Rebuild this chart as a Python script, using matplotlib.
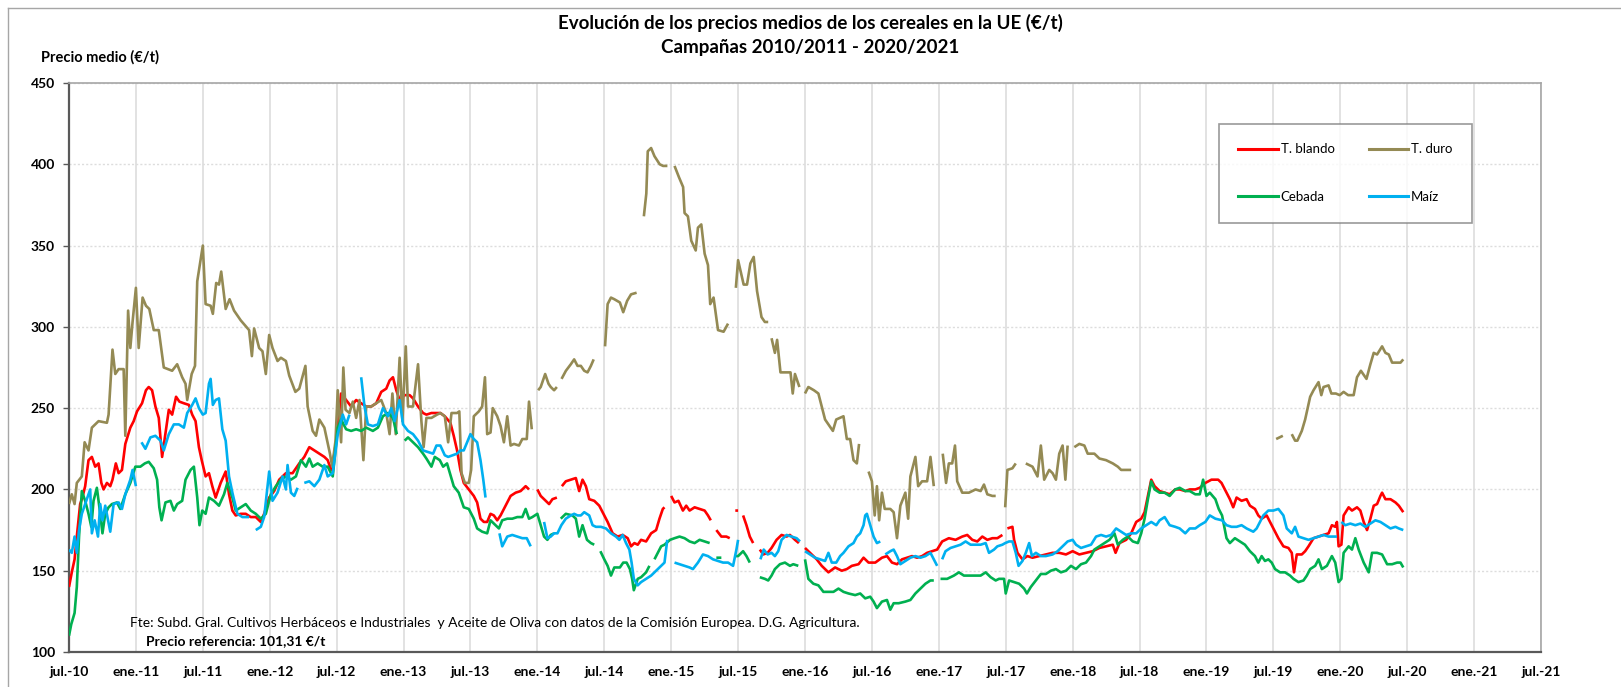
import numpy as np
import matplotlib
matplotlib.use("Agg")
import matplotlib.pyplot as plt
from matplotlib.lines import Line2D

plt.rcParams['font.family'] = ['Lato', 'DejaVu Sans']

FONTSIZE = 10

# x = months since jul.-10 ; None marks a break in the weekly series
tick_labels = ['jul.-10', 'ene.-11', 'jul.-11', 'ene.-12', 'jul.-12', 'ene.-13', 'jul.-13',
               'ene.-14', 'jul.-14', 'ene.-15', 'jul.-15', 'ene.-16', 'jul.-16', 'ene.-17',
               'jul.-17', 'ene.-18', 'jul.-18', 'ene.-19', 'jul.-19', 'ene.-20', 'jul.-20',
               'ene.-21', 'jul.-21']

duro_m = [0, 0.25, 0.5, 0.7, 1.15, 1.4, 1.75, 2.05, 2.65, 3.4, 3.55, 3.9, 4.15, 4.45, 4.9, 5.05, 5.3, 5.5,
          5.7, 6.0, 6.25, 6.6, 6.9, 7.2, 7.6, 8.05, 8.5, 9.25, 9.7, 10.15, 10.45, 10.6, 11.0, 11.3, 11.5,
          12.0, 12.25, 12.7, 12.9, 13.2, 13.45, 13.65, 14.05, 14.4, 14.8, 15.4, 16.15, 16.4, 16.6, 17.05,
          17.35, 17.65, 17.95, 18.25, 18.7, 19.0, 19.45, 19.75, 20.3, 20.65, 21.2, 21.4, 21.85, 22.15,
          22.45, 22.9, 23.4, 23.6, 23.9, 24.1, 24.4, 24.6, 24.8, 25.15, 25.45, 25.75, 26.05, 26.4, 26.65,
          27.1, 27.55, 28.0, 28.45, 28.75, 29.0, 29.3, 29.65, 29.9, 30.2, 30.4, 30.85, 31.3, 31.6, 31.8,
          32.05, 32.5, 33.0, 33.3, 33.7, 34.0, 34.3, 34.8, 35.0, 35.2, 35.5, 35.85, 36.06, 36.3, 36.75,
          37.05, 37.3, 37.5, 37.8, 38.0, 38.4, 38.7, 39.0, 39.3, 39.6, 39.9, 40.35, 40.65, 41.05, 41.25,
          41.5, None, 42.07, 42.3, 42.7, 43.0, 43.2, 43.5, 43.75, None, 44.17, 44.56, 45.0, 45.3, 45.6,
          45.9, 46.2, 46.5, 46.8, 47.05, None, 48.07, 48.3, 48.6, 48.9, 49.4, 49.7, 50.05, 50.4, 50.9,
          None, 51.55, 51.77, 51.9, 52.2, 52.5, 52.97, 53.27, 53.66, None, 54.3, 54.7, 55.07, 55.2, 55.5,
          55.8, 56.2, 56.4, 56.7, 57.0, 57.3, 57.5, 57.8, 58.2, 58.7, 59.1, None, 59.8, 60.0, 60.5, 60.8,
          61.1, 61.4, 61.7, 62.1, 62.4, 62.7, None, 63.0, 63.3, 63.5, 63.8, 64.1, 64.7, 64.9, 65.1, 65.5,
          None, 66.0, 66.3, 66.8, 67.2, 67.8, 68.1, 68.5, 68.8, 69.45, 69.75, 70.05, 70.35, 70.65, 70.85,
          None, 71.7, 72.0, 72.25, 72.45, 72.65, 72.9, 73.15, 73.65, 73.95, 74.25, 74.55, 75.0, 75.25,
          75.45, 75.9, 76.15, 76.5, 76.95, 77.25, 77.55, None, 78.35, 78.65, 78.9, 79.2, 79.45, 79.65,
          80.1, 80.7, 81.3, 81.75, 82.05, 82.35, 82.8, 83.1, None, 83.95, 84.15, 84.6, 84.9, None, 85.8,
          86.4, 86.85, 87.15, 87.45, 87.9, 88.2, 88.5, 88.8, 89.1, 89.35, 89.55, None, 90.15, 90.6, 91.05,
          91.35, 91.95, 92.4, 93.0, 93.6, 94.05, 94.35, 94.8, 95.25, None, 108.25, 108.85, None, 109.65,
          109.95, 110.15, 110.55, 110.85, 111.3, 111.6, 112.05, 112.3, 112.5, 112.95, 113.2, 113.6,
          113.95, 114.3, 114.7, 115.2, 115.5, 115.85, 116.35, 116.7, 117.0, 117.3, 117.75, 118.05,
          118.35, 118.65, 119.1, 119.4, 119.65]
duro_v = [191, 197, 191, 204, 208, 229, 224, 238, 242, 241, 246, 286, 271, 274, 274, 233, 310, 287,
          303, 324, 287, 318, 313, 311, 298, 298, 275, 273, 277, 269, 265, 255, 271, 276, 328,
          350, 314, 313, 308, 327, 326, 334, 311, 317, 310, 304, 298, 282, 299, 287,
          285, 271, 295, 287, 279, 281, 279, 270, 260, 262, 276, 251, 236, 233,
          243, 238, 222, 214, 230, 261, 229, 275, 249, 247, 254, 244, 255, 218, 251,
          251, 253, 255, 247, 234, 259, 234, 281, 242, 288, 251, 251, 277, 242, 226,
          244, 244, 246, 247, 245, 229, 247, 247, 248, 210, 204, 204, 212, 245, 248,
          251, 269, 234, 235, 250, 245, 239, 229, 245, 227, 228, 227, 231, 231, 254,
          237, None, 261, 263, 271, 265, 263, 261, 263, None, 268, 273, 277, 280, 276,
          276, 273, 272, 276, 280, None, 288, 314, 318, 317, 315, 309, 316, 320, 321,
          None, 368, 382, 408, 410, 405, 400, 399, 399, None, 399, 392, 386, 370, 368,
          353, 347, 361, 363, 345, 338, 314, 318, 298, 297, 302, None, 324, 341, 326, 326,
          339, 343, 322, 306, 303, 303, None, 293, 284, 292, 272, 272, 272, 259, 271, 263,
          None, 259, 263, 261, 259, 243, 240, 236, 243, 245, 231, 231, 218, 216, 228,
          None, 211, 205, 184, 202, 181, 198, 188, 188, 186, 170, 190, 198, 182,
          208, 220, 202, 205, 205, 220, 202, None, 222, 204, 216, 216, 227, 205,
          198, 198, 200, 199, 203, 197, 196, 196, None, 189, 212, 213, 216, None, 216,
          214, 208, 227, 206, 212, 210, 206, 222, 227, 206, 227, None, 226, 228, 227,
          222, 222, 219, 218, 216, 214, 212, 212, 212, None, 231, 233, None, 234,
          230, 230, 236, 243, 257, 261, 266, 258, 263, 264, 259, 259,
          258, 260, 258, 258, 269, 273, 268, 277, 284, 283, 288, 284,
          283, 278, 278, 278, 280]

blando_m = [0, 0.25, 0.5, 0.7, 1.0, 1.2, 1.45, 1.75, 2.05, 2.35, 2.65, 2.9, 3.1, 3.4, 3.7, 3.9, 4.2, 4.45,
            4.75, 5.05, 5.5, 5.8, 6.1, 6.55, 6.9, 7.15, 7.45, 7.75, 8.05, 8.35, 8.6, 8.95, 9.25, 9.6, 9.9,
            10.3, 10.75, 11.05, 11.35, 11.65, 11.9, 12.25, 12.55, 12.85, 13.15, 13.6, 14.05, 14.35, 14.65,
            14.95, 15.4, 15.85, 16.3, 16.75, 17.2, 17.5, 17.95, 18.4, 18.85, 19.45, 20.05, 20.65, 21.1,
            21.55, 22.0, 22.45, 22.9, 23.2, 23.5, 23.8, 24.1, 24.4, 24.85, 25.3, 25.75, 26.2, 26.65, 27.1,
            27.55, 28.0, 28.45, 28.75, 29.05, 29.35, 29.65, 30.1, 30.55, 30.85, 31.3, 31.75, 32.05, 32.5,
            32.95, 33.3, 33.7, 34.2, 34.5, 34.8, 35.1, 35.4, 35.85, 36.3, 36.6, 36.9, 37.2, 37.5, 37.8,
            38.1, 38.4, 38.7, 39.0, 39.3, 39.6, 40.05, 40.5, 40.95, 41.25, None, 42.0, 42.3, 42.75, 43.05,
            43.35, 43.75, None, 44.2, 44.55, 45.0, 45.45, 45.75, 46.05, 46.35, 46.65, 47.1, 47.55, 47.85,
            48.3, 48.75, 49.2, 49.65, 50.1, 50.4, 50.7, 51.0, 51.3, 51.75, 52.2, 52.65, 52.95, 53.25, 53.4,
            None, 54.0, 54.3, 54.65, 55.05, 55.35, 55.65, 56.1, 56.55, 57.0, 57.3, 57.55, None, 58.05,
            58.5, 58.95, 59.25, None, 59.75, 60.0, None, 60.45, 60.75, 61.05, 61.35, None, 61.95, 62.25,
            62.65, 63.0, 63.45, 63.9, 64.35, 64.65, 65.1, 65.45, None, 66.0, 66.6, 67.05, 67.5, 68.1, 68.7,
            69.3, 69.75, 70.2, 70.8, 71.25, 71.7, 72.3, 72.9, 73.35, 73.8, 74.25, 74.7, 75.15, 75.6, 76.05,
            76.5, 76.95, 77.4, 77.85, 78.3, 78.9, 79.5, 80.1, 80.55, 81.0, 81.45, 81.9, 82.35, 82.8, 83.25,
            83.7, None, 84.15, 84.6, 84.75, 85.05, 85.5, 85.95, 86.4, 87.0, 87.6, 88.2, 88.8, 89.4, 90.0,
            90.6, 91.2, 91.8, 92.4, 93.0, 93.6, 93.85, 94.2, 94.8, 95.25, 95.7, 96.15, 96.45, 96.75, 97.05,
            97.35, 97.8, 98.25, 98.7, 99.2, 99.6, 100.1, 100.5, 101.0, 101.4, 101.9, 102.45, 103.05,
            103.35, 103.8, 104.1, 104.4, 104.7, 105.15, 105.6, 105.9, 106.35, 106.65, 106.95, 107.4,
            107.7, 108.0, 108.45, 108.9, 109.35, 109.65, 109.85, 110.1, 110.55, 110.85, 111.15, 111.6,
            112.05, 112.5, 112.95, 113.25, 113.55, 113.7, 113.85, 114.1, 114.3, 114.75, 115.05, 115.5,
            115.8, 116.1, 116.4, 116.7, 117.0, 117.3, 117.6, 117.75, 118.05, 118.5, 118.95, 119.25, 119.65]
blando_v = [140, 149, 157, 171, 191, 195, 202, 218, 220, 214, 216, 204, 200, 204, 202, 206, 216, 210,
            212, 228, 238, 242, 248, 253, 261, 263, 261, 251, 244, 220, 232, 249, 246, 257, 254,
            253, 252, 246, 242, 226, 218, 208, 210, 202, 195, 204, 211, 197, 187,
            184, 185, 185, 183, 183, 180, 185, 195, 199, 206, 210, 210, 216, 220,
            226, 224, 222, 220, 218, 212, 222, 238, 259, 255, 251, 255, 253, 251, 251,
            253, 260, 262, 267, 269, 261, 255, 258, 258, 256, 251, 247, 246, 247,
            247, 247, 245, 241, 233, 224, 212, 204, 200, 196, 192, 182, 180, 180, 185,
            184, 181, 184, 188, 192, 196, 198, 199, 202, 200, None, 200, 196, 193, 191,
            194, 195, None, 202, 205, 206, 207, 199, 206, 202, 194, 193, 190, 186,
            180, 173, 171, 172, 170, 165, 167, 166, 169, 168, 173, 175, 182, 188, 189,
            None, 196, 192, 193, 187, 190, 187, 189, 188, 187, 184, 181, None, 175,
            171, 171, 170, None, 187, 187, None, 184, 178, 171, 167, None, 163, 160,
            161, 164, 169, 172, 171, 172, 169, 167, None, 164, 160, 157, 153, 149, 152,
            150, 151, 153, 154, 158, 155, 155, 158, 159, 155, 154, 157, 158, 159, 158,
            159, 161, 162, 163, 168, 170, 169, 171, 172, 169, 168, 171, 169, 170, 170,
            172, None, 176, 177, 169, 161, 157, 159, 158, 159, 160, 161, 161, 160, 162,
            160, 161, 162, 164, 165, 166, 161, 167, 169, 173, 180, 182, 186, 196, 206,
            202, 199, 198, 197, 200, 200, 199, 200, 200, 201, 204, 206, 206,
            204, 198, 194, 189, 195, 193, 194, 190, 188, 184, 182, 184,
            180, 176, 170, 165, 164, 161, 149, 160, 160, 162, 165, 170,
            171, 172, 173, 178, 177, 180, 165, 166, 184, 189, 187, 189,
            187, 180, 175, 182, 190, 191, 196, 198, 194, 194, 192, 190, 186]

cebada_m = [0, 0.2, 0.5, 0.7, 0.9, 1.15, 1.45, 1.75, 2.0, 2.2, 2.5, 2.8, 3.0, 3.25, 3.55, 3.85, 4.3, 4.6,
            5.05, 5.5, 5.95, 6.4, 6.8, 7.15, 7.6, 7.9, 8.1, 8.3, 8.65, 9.1, 9.4, 9.7, 10.15, 10.45, 10.9,
            11.2, 11.5, 11.7, 11.95, 12.25, 12.55, 13.0, 13.45, 13.9, 14.2, 14.65, 14.95, 15.4, 15.85,
            16.3, 16.75, 17.2, 17.65, 18.1, 18.55, 19.0, 19.45, 19.9, 20.35, 20.8, 21.25, 21.55, 21.85,
            22.3, 22.75, 23.2, 23.65, 24.1, 24.4, 24.85, 25.3, 25.75, 26.2, 26.65, 27.25, 27.7, 28.15,
            28.6, 29.05, 29.4, None, 30.1, 30.4, 30.85, 31.3, 31.75, 32.05, 32.5, 32.8, 33.25, 33.55,
            33.9, 34.5, 34.95, 35.4, 35.85, 36.3, 36.6, 37.05, 37.5, 37.8, 38.25, 38.55, 38.85, 39.3,
            39.75, 40.2, 40.65, 40.95, 41.25, 41.55, 42.0, 42.3, 42.6, 42.9, 43.2, 43.5, None, 44.1,
            44.55, 45.15, 45.45, 45.75, 46.05, 46.45, 46.8, 47.1, None, 47.65, 48.0, 48.3, 48.6, 48.9,
            49.4, 49.7, 50.0, 50.3, 50.5, 50.65, 51.0, 51.3, 51.75, 52.05, None, 52.5, 52.8, 53.1, 53.4,
            53.9, 54.3, 54.75, 55.2, 55.65, 56.1, 56.55, 57.0, 57.45, None, 58.05, 58.5, None, 59.7,
            60.0, 60.45, 60.75, 61.05, None, 61.95, 62.4, 62.7, 63.0, 63.3, 63.75, 64.2, 64.65, 64.95,
            65.4, None, 66.0, 66.3, 66.75, 67.2, 67.65, 68.1, 68.55, 69.0, 69.45, 69.9, 70.5, 70.95,
            71.4, 71.85, 72.15, 72.45, 72.9, 73.35, 73.65, 73.95, 74.4, 75.0, 75.45, 75.9, 76.35, 76.8,
            77.25, 77.55, None, 78.15, 78.75, 79.35, 79.8, 80.25, 80.7, 81.3, 81.75, 82.2, 82.65, 83.1,
            83.4, 83.85, 84.0, 84.3, 84.75, 85.2, 85.65, 85.9, 86.25, 86.7, 87.15, 87.6, 88.05, 88.5,
            88.95, 89.4, 89.85, 90.3, 90.75, 91.2, 91.65, 91.95, 92.4, 92.85, 93.3, 93.75, 94.05, 94.5,
            94.95, 95.4, 95.85, 96.15, 96.45, 96.75, 97.05, 97.35, 97.8, 98.25, 98.7, 99.2, 99.6, 100.1,
            100.5, 101.0, 101.4, 101.7, 102.0, 102.3, 102.8, 103.1, 103.4, 103.8, 104.1, 104.55, 105.0,
            105.45, 105.9, 106.35, 106.65, 106.95, 107.25, 107.55, 107.85, 108.15, 108.6, 109.05, 109.5,
            109.8, 110.25, 110.7, 111.0, 111.3, 111.75, 112.05, 112.35, 112.8, 113.25, 113.55, 113.85,
            114.1, 114.3, 114.75, 115.05, 115.35, 115.65, 116.1, 116.55, 116.85, 117.3, 117.75, 118.2,
            118.65, 119.1, 119.4, 119.65]
cebada_v = [110, 117, 124, 140, 171, 199, 193, 185, 177, 193, 201, 185, 173, 185, 189, 191, 192, 188,
            197, 204, 214, 214, 216, 217, 213, 206, 189, 181, 192, 193, 187, 191, 193, 206, 212,
            214, 195, 178, 187, 185, 195, 193, 190, 197, 204, 195, 187, 189, 191,
            187, 185, 182, 185, 197, 202, 206, 208, 206, 208, 218, 214, 219, 214,
            216, 214, 214, 208, 238, 243, 237, 236, 237, 236, 238, 236, 238, 245,
            247, 244, 234, None, 230, 232, 229, 226, 222, 219, 214, 220, 218, 214,
            216, 202, 198, 189, 188, 182, 176, 174, 173, 181, 178, 176, 181, 182,
            182, 183, 183, 188, 182, 183, 185, 178, 171, 169, 172, 173, None, 182,
            185, 184, 182, 171, 178, 169, 167, 166, None, 162, 157, 153, 147, 152,
            152, 155, 155, 151, 145, 138, 145, 146, 149, 153, None, 157, 161, 165, 166,
            169, 170, 171, 170, 168, 167, 169, 168, 167, None, 158, 158, None, 159,
            159, 162, 159, 155, None, 146, 145, 144, 147, 151, 154, 155, 153, 154,
            153, None, 157, 145, 142, 141, 137, 137, 137, 139, 137, 136, 135, 136,
            133, 134, 131, 127, 131, 132, 126, 130, 130, 131, 132, 136, 139, 142,
            144, 144, None, 145, 145, 147, 149, 147, 147, 147, 147, 149, 146, 144,
            145, 145, 136, 144, 143, 142, 139, 136, 140, 144, 148, 148, 150, 151,
            149, 150, 153, 151, 154, 155, 159, 163, 165, 167, 169, 173, 166, 169,
            171, 168, 167, 173, 182, 194, 205, 200, 198, 198, 196, 200, 201, 199,
            199, 197, 197, 206, 196, 198, 194, 188, 184, 170, 167, 170, 168,
            166, 162, 159, 155, 159, 156, 157, 155, 151, 149, 149, 147,
            145, 143, 144, 147, 151, 153, 157, 151, 153, 159, 155, 143,
            145, 161, 165, 163, 170, 163, 155, 149, 161, 161, 160, 154,
            154, 155, 155, 152]

maiz_m = [0, 0.25, 0.5, 0.7, 0.9, 1.15, 1.45, 1.9, 2.05, 2.3, 2.6, 2.8, 3.0, 3.25, 3.7, 4.0, 4.45, 4.75,
          5.05, 5.5, 5.7, 6.0, None, 6.5, 6.85, 7.3, 7.75, 8.2, 8.5, 8.95, 9.4, 9.85, 10.3, 10.6, 11.05,
          11.35, 11.65, 12.0, 12.25, 12.55, 12.7, 12.9, 13.15, 13.45, 13.75, 14.05, 14.35, 14.65, 15.1,
          15.55, 16.15, None, 16.75, 17.2, 17.5, 17.95, 18.25, 18.7, 19.15, 19.45, 19.6, 19.9, 20.2, 20.5,
          None, 21.1, 21.55, 22.0, 22.45, 22.9, 23.2, 23.65, 24.1, 24.55, 24.85, 25.15, None, 26.2, 26.5,
          26.8, 27.25, 27.7, 28.15, 28.6, 28.9, 29.2, 29.65, 29.95, 30.4, 30.85, 31.3, 31.75, 32.2, 32.65,
          32.95, 33.3, 33.7, 34.0, 34.4, 34.8, 35.1, 35.4, 36.0, 36.3, 36.6, 36.9, 37.15, 37.35, None,
          38.6, 38.85, 39.3, 39.75, 40.2, 40.65, 41.05, 41.4, None, 42.6, 42.9, 43.2, 43.5, 43.8, 44.15,
          44.55, 45.0, 45.3, 45.6, 45.9, 46.2, 46.65, 46.95, 47.25, 47.7, 48.15, 48.6, 49.05, 49.35,
          49.65, 49.95, 50.25, 50.45, 50.65, 51.0, 51.3, 51.75, 52.2, 52.65, 53.1, 53.4, 53.65, None,
          54.3, 54.75, 55.2, 55.65, 55.95, 56.4, 56.85, 57.3, 57.75, 58.2, 58.65, 59.1, 59.55, 59.85,
          60.0, None, 62.0, 62.3, 62.65, 63.0, 63.3, 63.6, 63.9, 64.35, 64.8, 65.25, 65.55, None, 66.0,
          66.45, 66.9, 67.35, 67.8, 68.1, 68.4, 68.8, 69.15, 69.45, 69.9, 70.35, 70.65, 70.95, 71.25,
          71.4, 71.55, 71.85, 72.15, 72.45, 72.75, None, 73.2, 73.65, 73.95, 74.25, 74.55, 75.0, 75.45,
          75.9, 76.35, 76.8, 77.25, 77.55, 77.85, None, 78.3, 78.6, 79.05, 79.5, 79.95, 80.4, 80.85,
          81.3, 81.75, 82.2, 82.5, 82.95, 83.25, 83.7, 83.95, 84.3, 84.6, 84.9, 85.15, 85.5, 85.8, 86.1,
          86.35, 86.7, 87.15, 87.6, 88.2, 88.65, 89.1, 89.55, 90.0, 90.3, 90.75, 91.2, 91.65, 92.1, 92.55,
          93.0, 93.45, 93.9, 94.35, 94.8, 95.25, 95.7, 96.15, 96.6, 97.05, 97.5, 97.8, 98.25, 98.7, 99.2,
          99.6, 100.1, 100.5, 101.0, 101.4, 101.9, 102.3, 102.8, 103.4, 103.8, 104.25, 104.7, 105.15,
          105.6, 106.2, 106.5, 106.8, 107.1, 107.55, 108.0, 108.45, 108.9, 109.2, 109.65, 109.95,
          110.25, 110.7, 111.15, 111.6, 112.05, 112.5, 112.95, 113.4, 113.7, None, 114.1, 114.45, 114.9,
          115.35, 115.8, 116.25, 116.7, 117.15, 117.6, 118.05, 118.5, 118.95, 119.25, 119.65]
maiz_v = [163, 161, 171, 161, 175, 185, 191, 200, 173, 181, 171, 191, 181, 190, 174, 191, 192, 188,
          197, 206, 212, 202, None, 229, 225, 232, 233, 230, 224, 234, 240, 240, 238, 247, 252,
          256, 250, 246, 247, 265, 268, 252, 255, 256, 237, 230, 208, 198, 185,
          183, 183, None, 175, 177, 183, 211, 193, 198, 208, 200, 215, 198, 196, 201,
          None, 204, 205, 202, 206, 215, 208, 210, 234, 246, 240, 246, None, 269, 251,
          240, 239, 240, 250, 245, 250, 242, 255, 240, 236, 234, 230, 224, 223, 222,
          227, 227, 221, 220, 221, 222, 224, 224, 234, 231, 229, 218, 206, 195, None,
          173, 165, 171, 172, 171, 170, 170, 165, None, 180, 170, 171, 173, 173, 178,
          182, 184, 185, 184, 184, 186, 184, 178, 177, 177, 176, 173, 171, 169,
          172, 167, 163, 155, 145, 141, 143, 145, 147, 150, 153, 155, 169, None,
          155, 154, 153, 152, 151, 155, 160, 159, 157, 156, 155, 155, 153, 163,
          169, None, 157, 163, 160, 161, 159, 162, 169, 172, 171, 170, 168, None, 162,
          160, 158, 157, 156, 161, 155, 155, 159, 161, 165, 167, 171, 173, 178,
          184, 185, 178, 171, 167, 168, None, 160, 162, 163, 159, 154, 156, 158,
          159, 158, 159, 161, 157, 153, None, 157, 162, 164, 165, 166, 168, 166,
          166, 166, 167, 161, 163, 165, 166, 167, 168, 168, 161, 153, 156, 161, 167,
          159, 161, 159, 159, 160, 162, 165, 168, 169, 166, 164, 165, 166, 171, 172,
          171, 172, 176, 174, 172, 173, 173, 176, 178, 180, 178, 181, 183, 178, 177,
          176, 173, 176, 176, 178, 180, 184, 182, 181, 178, 177, 177, 178,
          176, 174, 176, 180, 184, 187, 187, 188, 184, 176, 173, 177,
          171, 170, 169, 170, 171, 172, 171, 171, 171, None, 180, 178, 179,
          178, 179, 177, 179, 181, 180, 178, 176, 177, 176, 175]


def arr(vals):
    return np.array([np.nan if v is None else v for v in vals], dtype=float)


fig = plt.figure(figsize=(16.21, 6.87), dpi=100)
ax = fig.add_axes([69 / 1621, 35 / 687, 1472 / 1621, 569 / 687])

series = [
    ('T. blando', blando_m, blando_v, '#FF0000'),
    ('T. duro', duro_m, duro_v, '#948A54'),
    ('Cebada', cebada_m, cebada_v, '#00B050'),
    ('Maíz', maiz_m, maiz_v, '#00B0F0'),
]
# draw order: duro behind, then cebada, maiz, blando on top
order = [1, 2, 3, 0]
for k in order:
    name, xm, yv, col = series[k]
    ax.plot(arr(xm), arr(yv), color=col, lw=1.9, solid_joinstyle='round',
            solid_capstyle='butt', zorder=3 + k)

ax.set_xlim(0, 132)
ax.set_ylim(100, 450)
ax.set_xticks(np.arange(0, 133, 6))
ax.set_xticklabels(tick_labels, fontsize=FONTSIZE, fontweight='bold')
ax.set_yticks(np.arange(100, 451, 50))
ax.set_yticklabels([str(v) for v in range(100, 451, 50)], fontsize=FONTSIZE, fontweight='bold')
ax.tick_params(axis='x', length=0, pad=10)
ax.tick_params(axis='y', length=4, width=1, color='#595959', pad=6, direction='out')

ax.grid(axis='x', color='#DDDDDD', lw=1.2, ls='-')
ax.grid(axis='y', color='#DDDDDD', lw=1.0, ls=(0, (1.5, 1.5)))
ax.set_axisbelow(True)

for s in ['left', 'bottom']:
    ax.spines[s].set_color('#595959')
    ax.spines[s].set_linewidth(1.6)
for s in ['top', 'right']:
    ax.spines[s].set_color('#A6A6A6')
    ax.spines[s].set_linewidth(1.2)

# titles and texts
fig.text(0.5, 1 - 23 / 687, 'Evolución de los precios medios de los cereales en la UE (€/t)',
         ha='center', va='center', fontsize=13.5, fontweight='bold')
fig.text(0.5, 1 - 47 / 687, 'Campañas 2010/2011 - 2020/2021',
         ha='center', va='center', fontsize=13.5, fontweight='bold')
fig.text(41 / 1621, 1 - 57 / 687, 'Precio medio (€/t)', ha='left', va='center',
         fontsize=10.5, fontweight='bold')
fig.text(130 / 1621, 1 - 623 / 687,
         'Fte: Subd. Gral. Cultivos Herbáceos e Industriales  y Aceite de Oliva con datos de la '
         'Comisión Europea. D.G. Agricultura.', ha='left', va='center', fontsize=10)
fig.text(146 / 1621, 1 - 641 / 687, 'Precio referencia: 101,31 €/t', ha='left', va='center',
         fontsize=10, fontweight='bold')

handles = [Line2D([0], [0], color=s[3], lw=2.2) for s in series]
labels = [s[0] for s in series]
# ncol=2 fills column-wise, reorder so rows read T. blando / T. duro, Cebada / Maíz
h_ord = [handles[0], handles[2], handles[1], handles[3]]
l_ord = [labels[0], labels[2], labels[1], labels[3]]
leg = fig.legend(h_ord, l_ord, ncol=2, loc='upper left',
                 bbox_to_anchor=(1212 / 1621, 1 - 117 / 687),
                 fontsize=9.5, frameon=True, fancybox=False, edgecolor='#808080',
                 handlelength=3.0, handletextpad=0.2, columnspacing=2.6,
                 labelspacing=2.7, borderpad=1.5)
leg.get_frame().set_linewidth(1.2)

# outer chart frame
fig.add_artist(Line2D([8 / 1621, 1], [1 - 8 / 687, 1 - 8 / 687], color='#A6A6A6', lw=1,
                      transform=fig.transFigure))
fig.add_artist(Line2D([8 / 1621, 8 / 1621], [0, 1 - 8 / 687], color='#A6A6A6', lw=1,
                      transform=fig.transFigure))

fig.savefig('out.png', dpi=100)
